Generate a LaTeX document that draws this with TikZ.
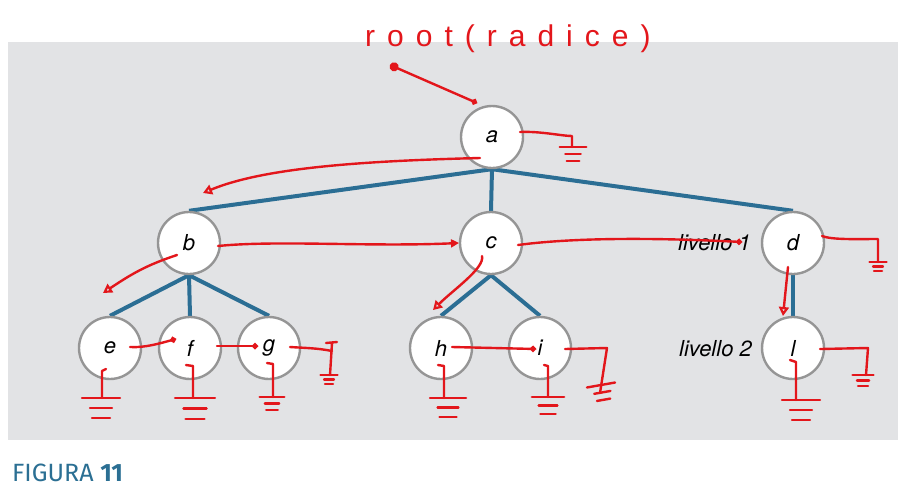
\documentclass[tikz,border=0pt]{standalone}
\usepackage{fontspec}
\setmainfont{TeX Gyre Heros}
\newfontfamily\captionfont{Fira Sans}
\newfontfamily\penfont[LetterSpace=40]{Liberation Sans}
\usetikzlibrary{arrows.meta,calc}

\definecolor{panelgray}{HTML}{E2E3E5}
\definecolor{branchblue}{HTML}{2B6E94}
\definecolor{penred}{HTML}{E3161B}
\definecolor{ringgray}{HTML}{959595}
\definecolor{captionblue}{HTML}{2B6F93}

\pgfdeclarelayer{panel}
\pgfdeclarelayer{branches}
\pgfsetlayers{panel,branches,main}

\tikzset{
  treenode/.style={circle,minimum size=62pt,inner sep=0pt,draw=ringgray,
    line width=2.4pt,fill=white,font=\fontsize{22}{26}\selectfont\itshape},
  levellabel/.style={inner sep=0pt,font=\fontsize{22}{26}\selectfont\itshape},
  branch/.style={draw=branchblue,line width=4pt},
  pen/.style={draw=penred,line width=2.4pt,line cap=round,line join=round},
  opentip/.style={-{Triangle[open,length=9pt,width=10pt,line width=2.2pt]}},
  dottip/.style={-{Circle[length=6pt]}},
  solidtip/.style={-{Triangle[length=8pt,width=8pt]}},
  gnd/.pic={
    \draw[pen] (-19,0) -- (19,0);
    \draw[pen] (-11,10) -- (11,10);
    \draw[pen] (-9,20) -- (9,20);
  }
}

\begin{document}
\begin{tikzpicture}[x=1pt,y=-1pt]
\useasboundingbox (0,0) rectangle (915,488);

\begin{pgfonlayer}{panel}
  \fill[panelgray] (8,42) rectangle (898,440);
\end{pgfonlayer}

% tree nodes
\node[treenode] (a) at (492,137) {a};
\node[treenode] (b) at (189,243) {b};
\node[treenode] (c) at (491,243) {c};
\node[treenode] (d) at (793,243) {d};
\node[treenode] (e) at (110,348) {e};
\node[treenode] (f) at (190,348) {f};
\node[treenode] (g) at (269,348) {g};
\node[treenode] (h) at (441,348) {h};
\node[treenode] (i) at (540,348) {i};
\node[treenode] (l) at (793,348) {l};

% branches
\begin{pgfonlayer}{branches}
  \draw[branch] (a.south) -- (b.north);
  \draw[branch] (a.south) -- (c.north);
  \draw[branch] (a.south) -- (d.north);
  \draw[branch] (b.south) -- (e.north);
  \draw[branch] (b.south) -- (f.north);
  \draw[branch] (b.south) -- (g.north);
  \draw[branch] (c.south) -- (h.north);
  \draw[branch] (c.south) -- (i.north);
  \draw[branch] (d.south) -- (l.north);
\end{pgfonlayer}

% level labels and caption
\node[levellabel,anchor=base east] (lev1) at (751,250) {livello 1};
\node[levellabel,anchor=base east] (lev2) at (752,356) {livello 2};
\node[inner sep=0pt,anchor=base west,text=captionblue,
  font=\captionfont\fontsize{25}{29}\selectfont] (fig) at (12,481) {FIGURA \textbf{11}};

% handwritten notes
\node[inner sep=0pt,anchor=base west,text=penred,
  font=\penfont\fontsize{30}{34}\selectfont] (roottitle) at (365,46) {root(radice)};
\coordinate (rootmark) at (390,65);
\draw[pen,{Circle[length=9pt]}-{Circle[length=6pt]}] (rootmark) -- ($(a)+(-15,-34)$);

% next-sibling / first-child pointers
\draw[pen,opentip] ($(a)+(-12,21)$) .. controls +(-120,3) and +(60,-25) .. ($(b)+(14,-50)$);
\draw[pen,solidtip] ($(b)+(29,3)$) .. controls +(60,-6) and +(-90,4) .. ($(c)+(-32,0)$);
\draw[pen,dottip] ($(c)+(27,2)$) .. controls +(60,-8) and +(-80,-4) .. ($(d)+(-51,-1)$);
\draw[pen,opentip] ($(d)+(-5,24)$) -- ($(l)+(-10,-32)$);
\draw[pen,opentip] ($(b)+(-12,12)$) .. controls +(-30,10) and +(30,-20) .. ($(e)+(-7,-55)$);
\draw[pen,opentip] ($(c)+(-9,13)$) .. controls +(3,12) and +(20,-20) .. ($(h)+(-8,-38)$);
\draw[pen,dottip] ($(e)+(20,-1)$) .. controls +(15,1) and +(-15,4) .. ($(f)+(-14,-9)$);
\draw[pen,dottip] ($(f)+(27,-2)$) -- ($(g)+(-11,-2)$);
\draw[pen,dottip] ($(h)+(11,-1)$) -- ($(i)+(-4,1)$);

% null links drawn as grounds
\draw[pen] ($(a)+(28,-5)$) .. controls +(20,-1) and +(-10,0) .. ($(a)+(80,-1)$) -- ($(a)+(80,10)$);
\pic[scale=0.7] at ($(a)+(81,10)$) {gnd};

\draw[pen] ($(d)+(29,-7)$) .. controls +(10,4) and +(-20,0) .. ($(d)+(85,-4)$) -- ($(d)+(85,19)$);
\pic[scale=0.45] at ($(d)+(85,19)$) {gnd};

\draw[pen] ($(g)+(21,-1)$) .. controls +(15,1) and +(-15,-3) .. ($(g)+(63,3)$);
\draw[pen] ($(g)+(57,-5)$) -- ($(g)+(68,-6)$);
\draw[pen] ($(g)+(63,-5)$) -- ($(g)+(61,27)$);
\pic[scale=0.45] at ($(g)+(60,27)$) {gnd};

\draw[pen] ($(e)+(-4,21)$) -- ($(e)+(-8,23)$) -- ($(e)+(-8,50)$);
\pic at ($(e)+(-9,50)$) {gnd};
\draw[pen] ($(f)+(-4,17)$) -- ($(f)+(3,18)$) -- ($(f)+(3,50)$);
\pic[scale=1.05] at ($(f)+(5,50)$) {gnd};
\draw[pen] ($(g)+(-2,15)$) -- ($(g)+(4,16)$) -- ($(g)+(4,49)$);
\pic[scale=0.65] at ($(g)+(3,49)$) {gnd};
\draw[pen] ($(h)+(-3,17)$) -- ($(h)+(3,18)$) -- ($(h)+(3,50)$);
\pic[scale=0.95] at ($(h)+(7,50)$) {gnd};
\draw[pen] ($(i)+(4,17)$) -- ($(i)+(8,18)$) -- ($(i)+(8,49)$);
\pic[scale=0.85] at ($(i)+(8,49)$) {gnd};
\draw[pen] ($(l)+(-3,12)$) -- ($(l)+(3,14)$) -- ($(l)+(3,52)$);
\pic at ($(l)+(8,52)$) {gnd};

\draw[pen] ($(i)+(25,1)$) -- ($(i)+(67,0)$) -- ($(i)+(60,45)$);
\pic[scale=0.75,rotate=10] at ($(i)+(61,37)$) {gnd};
\draw[pen] ($(l)+(27,1)$) -- ($(l)+(75,0)$) -- ($(l)+(73,27)$);
\pic[scale=0.55] at ($(l)+(70,27)$) {gnd};
\end{tikzpicture}
\end{document}
